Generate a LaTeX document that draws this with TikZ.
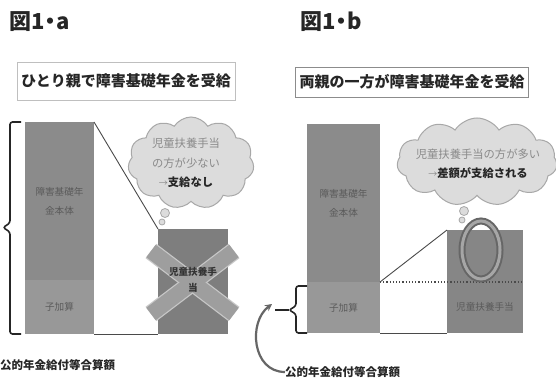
\documentclass[tikz,border=0pt]{standalone}
\usepackage{fontspec}
\newfontfamily\jp{Noto Sans CJK JP}
\usetikzlibrary{shapes.symbols,shapes.geometric,arrows.meta}
\definecolor{barup}{HTML}{8B8B8B}
\definecolor{barlow}{HTML}{989898}
\definecolor{boxa}{HTML}{7E7E7E}
\definecolor{boxb}{HTML}{868686}
\definecolor{cloudfill}{HTML}{DCDCDC}
\definecolor{cloudline}{HTML}{A8A8A8}
\definecolor{bartext}{HTML}{5A5A5A}
\definecolor{cloudtext}{HTML}{8A8A8A}
\definecolor{lineclr}{HTML}{4A4A4A}
\tikzset{
  blk/.style={anchor=north west, inner sep=0pt, outer sep=0pt, draw=none, text=bartext, align=center,
    font=\jp\fontsize{9.6}{19}\selectfont},
  titlebox/.style={draw=#1, line width=0.8pt, fill=white, inner sep=0pt, text=black!85,
    font=\jp\bfseries\fontsize{15}{18}\selectfont},
  figtitle/.style={anchor=west, inner sep=0pt, font=\jp\bfseries\fontsize{22}{24}\selectfont, text=black!85},
  thought/.style={cloud, cloud puffs=11, cloud puff arc=115, draw=cloudline, fill=cloudfill, line width=1pt, inner sep=0pt},
  bubble/.style={circle, draw=cloudline, fill=cloudfill, line width=0.8pt, inner sep=0pt},
  conn/.style={draw=lineclr, line width=0.9pt},
  bracepath/.style={draw=black!85, line width=1.6pt, rounded corners=2.5pt},
  note/.style={anchor=west, inner sep=0pt, font=\jp\bfseries\fontsize{11.5}{13}\selectfont, text=black!85},
  cloudtxt/.style={align=center, inner sep=0pt, font=\jp\fontsize{11.3}{19.5}\selectfont, text=cloudtext},
  xband/.style={line width=18pt, draw=#1},
}
\begin{document}
\begin{tikzpicture}[x=1pt,y=-1pt]
\useasboundingbox[fill=white] (0,0) rectangle (556,387);

% ---------- panel a ----------
\node[figtitle] (ta) at (9,22) {図1\kern-5pt・\kern-5pt a};
\node[titlebox=black!25, minimum width=218pt, minimum height=38pt] (hda) at (126,81) {ひとり親で障害基礎年金を受給};

\node[blk, fill=barup, minimum width=69pt, minimum height=158pt] (aup) at (25,122) {障害基礎年\\金本体};
\node[blk, fill=barlow, minimum width=69pt, minimum height=54pt] (alow) at (25,280) {子加算};
\node[blk, fill=boxa, minimum width=70pt, minimum height=105pt] (abox) at (158,229) {};

\path[conn] (aup.north east) -- (abox.north west);
\path[conn] (alow.south east) -- (abox.south west);

% cross over the box
\coordinate (x1) at (151,251);
\coordinate (x2) at (234,314);
\coordinate (x3) at (234,251);
\coordinate (x4) at (151,314);
\draw[xband=black!22] (x1) -- (x2);
\draw[xband=black!22] (x3) -- (x4);
\draw[line width=15.5pt, draw=black!38] (x1) -- (x2);
\draw[line width=15.5pt, draw=black!38] (x3) -- (x4);
\node[inner sep=0pt, align=center, text=black!80, font=\jp\bfseries\fontsize{9.6}{16}\selectfont] (atext) at (193,280) {児童扶養手\\当};

% thought cloud a
\node[thought, minimum width=126pt, minimum height=92pt] (cla) at (191,163) {};
\node[cloudtxt] (clat) at (186,163) {児童扶養手当\\の方が少ない\\{\fontsize{9}{10}\selectfont →}{\bfseries\color{black!85}支給なし}};
\node[bubble, minimum size=9pt] (ba1) at (165,213) {};
\node[bubble, minimum size=6pt] (ba2) at (162,222) {};

% brace a
\coordinate (bra1) at (21,122);
\coordinate (bra2) at (21,334);
\draw[bracepath] (bra1) -- (10,122) -- (10,223) -- (3,227.5) -- (10,232) -- (10,334) -- (bra2);

\node[note] (nta) at (0,365) {公的年金給付等合算額};

% ---------- panel b ----------
\node[figtitle] (tb) at (300,22) {図1\kern-5pt・\kern-5pt b};
\node[titlebox=black!45, minimum width=233pt, minimum height=30pt] (hdb) at (412,82) {両親の一方が障害基礎年金を受給};

\node[blk, fill=barup, minimum width=73pt, minimum height=158pt] (bup) at (307,124) {障害基礎年\\金本体};
\node[blk, fill=barlow, minimum width=73pt, minimum height=51pt] (blow) at (307,282) {子加算};
\node[blk, fill=boxb, minimum width=76pt, minimum height=103pt] (bbox) at (447,230) {};
\node[inner sep=0pt, text=bartext, font=\jp\fontsize{9.6}{12}\selectfont] (btext) at (485,307) {児童扶養手当};

\path[conn] (blow.north east) -- (bbox.north west);
\path[conn] (blow.south east) -- (bbox.south west);
\coordinate (dotend) at (blow.north east -| bbox.east);
\draw[draw=lineclr, line width=1.2pt, dotted] (blow.north east) -- (dotend);

% ring
\node[ellipse, draw=black!60, line width=7pt, minimum width=38pt, minimum height=58pt, inner sep=0pt] (ring) at (481,250) {};
\node[ellipse, draw=black!35, line width=3pt, minimum width=38pt, minimum height=58pt, inner sep=0pt] (ringin) at (481,250) {};

% thought cloud b
\node[thought, minimum width=160pt, minimum height=88pt] (clb) at (477,162) {};
\node[cloudtxt] (clbt) at (478,164) {児童扶養手当の方が多い\\{\fontsize{9}{10}\selectfont →}{\bfseries\color{black!85}差額が支給される}};
\node[bubble, minimum size=9pt] (bb1) at (464,211) {};
\node[bubble, minimum size=6pt] (bb2) at (462,220) {};

% brace b
\coordinate (brb1) at (307,286);
\coordinate (brb2) at (307,333);
\coordinate (brbtip) at (289,310);
\draw[bracepath] (brb1) -- (296,286) -- (296,306) -- (brbtip) -- (296,314) -- (296,333) -- (brb2);
\coordinate (brbend) at (275,310);
\draw[draw=black!85, line width=1.6pt] (brbtip) -- (brbend);

\node[note] (ntb) at (285,372) {公的年金給付等合算額};
\draw[draw=black!60, line width=2.2pt, -{Stealth[length=7pt,width=7pt]}] (ntb.west) .. controls (252,372) and (248,322) .. (272,304);
\end{tikzpicture}
\end{document}
